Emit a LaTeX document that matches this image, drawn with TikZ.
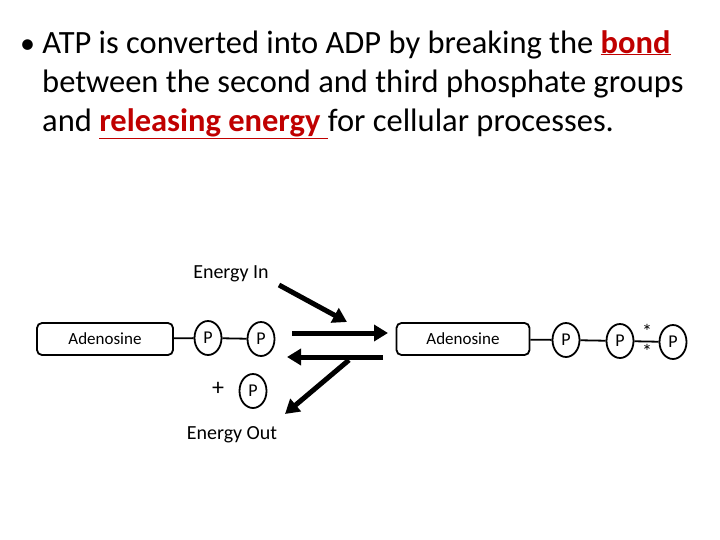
\documentclass[tikz,border=0pt]{standalone}
\usepackage{fontspec}
\setmainfont{Carlito}
\usetikzlibrary{arrows.meta}
\definecolor{bondred}{RGB}{192,0,0}
\tikzset{
  molbox/.style={draw, line width=1.8pt, rounded corners=5pt, minimum width=136pt, minimum height=32pt, font=\fontsize{17}{18}\selectfont},
  phos/.style={draw, line width=1.8pt, ellipse, minimum width=27pt, minimum height=34pt, inner sep=0pt, font=\fontsize{18}{18}\selectfont},
  bondline/.style={line width=1.8pt},
  fatarrow/.style={line width=5pt, -{Triangle[length=14pt,width=16pt]}},
  lbl/.style={font=\fontsize{20}{22}\selectfont}
}
\usetikzlibrary{shapes.geometric}
\begin{document}
\begin{tikzpicture}[x=1pt,y=-1pt]
    \useasboundingbox (0,0) rectangle (720,540);

    % Title text
    \node[anchor=north west, align=left, inner sep=0pt, font=\fontsize{32.5}{39}\selectfont] (title) at (20,30)
      {{\fontsize{30}{39}\selectfont\textbullet}\ ATP is converted into ADP by breaking the \textcolor{bondred}{\underline{\textbf{bond}}}\\
       \hspace*{22pt}between the second and third phosphate groups\\
       \hspace*{22pt}and \textcolor{bondred}{\underline{\textbf{releasing energy }}}for cellular processes.};

    % ADP on the left
    \node[molbox] (adl) at (105,339) {Adenosine};
    \node[phos] (pl1) at (208,338) {P};
    \node[phos] (pl2) at (261,339) {P};
    \draw[bondline] (adl) -- (pl1);
    \draw[bondline] (pl1) -- (pl2);
    \node[lbl, font=\fontsize{24}{24}\selectfont] (plus) at (218,389) {+};
    \node[phos] (pfree) at (253,391) {P};

    % ATP on the right
    \node[molbox, minimum width=133pt] (adr) at (463,339) {Adenosine};
    \node[phos] (pr1) at (566,340) {P};
    \node[phos] (pr2) at (620,341) {P};
    \node[phos] (pr3) at (673,342) {P};
    \draw[bondline] (adr) -- (pr1);
    \draw[bondline] (pr1) -- (pr2);
    \draw[bondline] (pr2) -- (pr3);
    \node[lbl, inner sep=0pt] (star1) at (647,331) {*};
    \node[lbl, inner sep=0pt] (star2) at (647,351) {*};

    % Energy labels and arrows
    \node[lbl] (ein) at (231,274) {Energy In};
    \node[lbl] (eout) at (232,435) {Energy Out};
    \coordinate (einA) at (279,285);
    \coordinate (einB) at (347,322);
    \coordinate (fwdA) at (292,333);
    \coordinate (fwdB) at (388,333);
    \coordinate (bckA) at (383,357);
    \coordinate (bckB) at (287,357);
    \coordinate (eoutA) at (349,360);
    \coordinate (eoutB) at (285,414);
    \draw[fatarrow] (einA) -- (einB);
    \draw[fatarrow] (fwdA) -- (fwdB);
    \draw[fatarrow] (bckA) -- (bckB);
    \draw[fatarrow] (eoutA) -- (eoutB);
\end{tikzpicture}
\end{document}
